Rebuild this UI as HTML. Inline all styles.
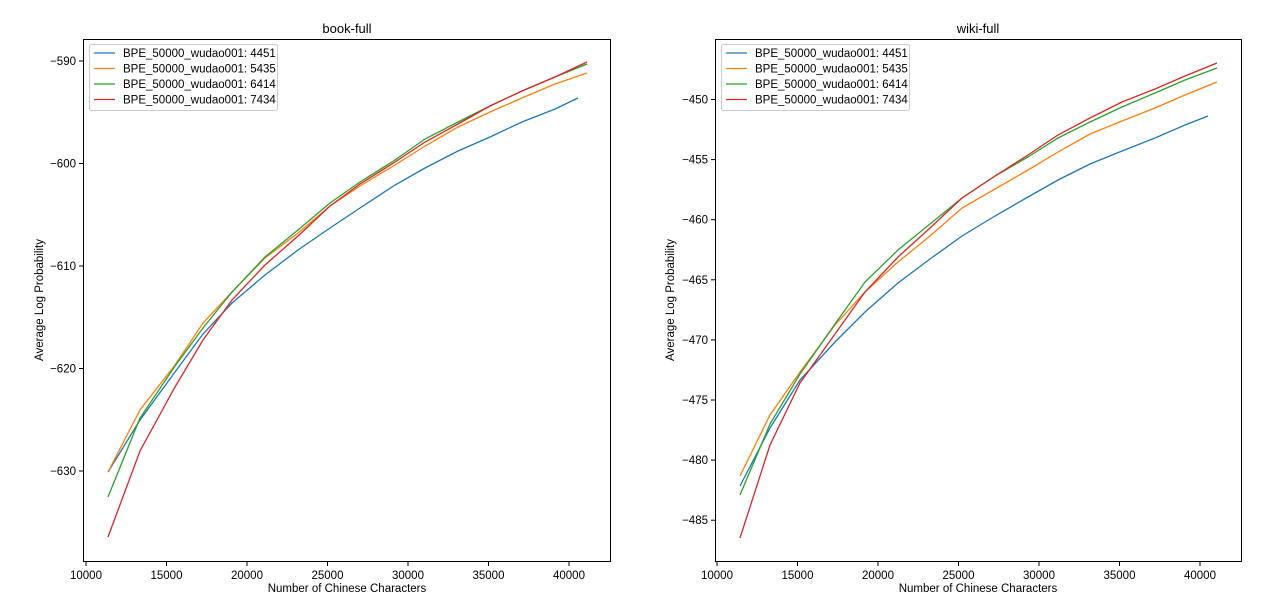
<!DOCTYPE html><html><head><meta charset="utf-8"><style>body{margin:0;background:#fff}svg{display:block}text{font-family:"Liberation Sans","DejaVu Sans",sans-serif;fill:#000}</style></head><body>
<svg width="1280" height="603" viewBox="0 0 1280 603" xmlns="http://www.w3.org/2000/svg">
<g font-size="11.5">
<!-- LEFT -->
<rect x="83.5" y="39.5" width="527" height="522" fill="none" stroke="#000" stroke-width="1"/>
<text x="347" y="33" text-anchor="middle" font-size="13">book-full</text>
<g stroke="#000"><line x1="86" y1="562" x2="86" y2="566"/><line x1="166.5" y1="562" x2="166.5" y2="566"/><line x1="247" y1="562" x2="247" y2="566"/><line x1="327.5" y1="562" x2="327.5" y2="566"/><line x1="408" y1="562" x2="408" y2="566"/><line x1="488.5" y1="562" x2="488.5" y2="566"/><line x1="569" y1="562" x2="569" y2="566"/>
<line x1="79" y1="61" x2="83" y2="61"/><line x1="79" y1="163.5" x2="83" y2="163.5"/><line x1="79" y1="266" x2="83" y2="266"/><line x1="79" y1="368.5" x2="83" y2="368.5"/><line x1="79" y1="471" x2="83" y2="471"/></g>
<g text-anchor="middle"><text x="86" y="579">10000</text><text x="166.5" y="579">15000</text><text x="247" y="579">20000</text><text x="327.5" y="579">25000</text><text x="408" y="579">30000</text><text x="488.5" y="579">35000</text><text x="569" y="579">40000</text></g>
<g text-anchor="end"><text x="76" y="65">−590</text><text x="76" y="167.5">−600</text><text x="76" y="270">−610</text><text x="76" y="372.5">−620</text><text x="76" y="475">−630</text></g>
<text x="347" y="592" text-anchor="middle">Number of Chinese Characters</text>
<text transform="translate(43,300) rotate(-90)" text-anchor="middle">Average Log Probability</text>
<g fill="none" stroke-width="1.3">
<polyline stroke="#1f77b4" points="108,472 140,420 175,372 203,334 232,303 265,275 298,250 330,228 360,208 395,185 425,168 458,151 490,137 522,122 555,109 578,98"/>
<polyline stroke="#ff7f0e" points="108,472 140,410 175,365 203,323 232,292 265,258 298,233 330,206 360,186 395,165 425,146 458,127 490,112 522,98 555,84 587,73"/>
<polyline stroke="#2ca02c" points="108,497 140,418 175,366 203,328 232,292 265,257 298,230 330,203 360,182 395,160 425,139 458,122 490,106 522,91 555,77 587,64"/>
<polyline stroke="#d62728" points="108,537 140,451 175,387 203,340 232,300 265,265 298,236 330,206 360,184 395,162 425,142 458,124 490,106 522,91 555,77 587,62"/>
</g>
<rect x="89.5" y="44.5" width="188" height="66" rx="2" fill="#fff" fill-opacity="0.8" stroke="#ccc"/>
<line x1="94" y1="53" x2="115" y2="53" stroke="#1f77b4" stroke-width="1.3"/><line x1="94" y1="68.5" x2="115" y2="68.5" stroke="#ff7f0e" stroke-width="1.3"/><line x1="94" y1="84" x2="115" y2="84" stroke="#2ca02c" stroke-width="1.3"/><line x1="94" y1="99.5" x2="115" y2="99.5" stroke="#d62728" stroke-width="1.3"/>
<text x="123" y="57">BPE_50000_wudao001: 4451</text><text x="123" y="72.5">BPE_50000_wudao001: 5435</text><text x="123" y="88">BPE_50000_wudao001: 6414</text><text x="123" y="103.5">BPE_50000_wudao001: 7434</text>
<!-- RIGHT -->
<rect x="715.5" y="39.5" width="526" height="522" fill="none" stroke="#000" stroke-width="1"/>
<text x="978" y="33" text-anchor="middle" font-size="13">wiki-full</text>
<g stroke="#000"><line x1="717" y1="562" x2="717" y2="566"/><line x1="797.5" y1="562" x2="797.5" y2="566"/><line x1="878" y1="562" x2="878" y2="566"/><line x1="958.5" y1="562" x2="958.5" y2="566"/><line x1="1039" y1="562" x2="1039" y2="566"/><line x1="1119.5" y1="562" x2="1119.5" y2="566"/><line x1="1200" y1="562" x2="1200" y2="566"/>
<line x1="711" y1="99.5" x2="715" y2="99.5"/><line x1="711" y1="159.6" x2="715" y2="159.6"/><line x1="711" y1="219.7" x2="715" y2="219.7"/><line x1="711" y1="279.8" x2="715" y2="279.8"/><line x1="711" y1="339.9" x2="715" y2="339.9"/><line x1="711" y1="400" x2="715" y2="400"/><line x1="711" y1="460.1" x2="715" y2="460.1"/><line x1="711" y1="520.2" x2="715" y2="520.2"/></g>
<g text-anchor="middle"><text x="717" y="579">10000</text><text x="797.5" y="579">15000</text><text x="878" y="579">20000</text><text x="958.5" y="579">25000</text><text x="1039" y="579">30000</text><text x="1119.5" y="579">35000</text><text x="1200" y="579">40000</text></g>
<g text-anchor="end"><text x="708" y="103.5">−450</text><text x="708" y="163.6">−455</text><text x="708" y="223.7">−460</text><text x="708" y="283.8">−465</text><text x="708" y="343.9">−470</text><text x="708" y="404">−475</text><text x="708" y="464.1">−480</text><text x="708" y="524.2">−485</text></g>
<text x="978" y="592" text-anchor="middle">Number of Chinese Characters</text>
<text transform="translate(674,300) rotate(-90)" text-anchor="middle">Average Log Probability</text>
<g fill="none" stroke-width="1.3">
<polyline stroke="#1f77b4" points="740,486 770,428 800,380 835,342 865,312 898,283 930,259 962,236 995,216 1028,197 1058,180 1090,164 1122,151 1155,138 1185,125 1208,116"/>
<polyline stroke="#ff7f0e" points="740,476 770,415 800,372 835,325 865,292 898,262 930,236 962,208 995,189 1028,170 1058,152 1090,134 1122,121 1155,108 1185,95 1217,82"/>
<polyline stroke="#2ca02c" points="740,495 770,424 800,374 835,324 865,282 898,250 930,224 962,198 995,176 1028,157 1058,138 1090,122 1122,107 1155,93 1185,80 1217,68"/>
<polyline stroke="#d62728" points="740,538 770,445 800,383 835,334 865,292 898,257 930,228 962,198 995,176 1028,155 1058,135 1090,118 1122,102 1155,89 1185,76 1217,63"/>
</g>
<rect x="721.5" y="44.5" width="188" height="66" rx="2" fill="#fff" fill-opacity="0.8" stroke="#ccc"/>
<line x1="726" y1="53" x2="747" y2="53" stroke="#1f77b4" stroke-width="1.3"/><line x1="726" y1="68.5" x2="747" y2="68.5" stroke="#ff7f0e" stroke-width="1.3"/><line x1="726" y1="84" x2="747" y2="84" stroke="#2ca02c" stroke-width="1.3"/><line x1="726" y1="99.5" x2="747" y2="99.5" stroke="#d62728" stroke-width="1.3"/>
<text x="755" y="57">BPE_50000_wudao001: 4451</text><text x="755" y="72.5">BPE_50000_wudao001: 5435</text><text x="755" y="88">BPE_50000_wudao001: 6414</text><text x="755" y="103.5">BPE_50000_wudao001: 7434</text>
</g>
</svg>
</body></html>
